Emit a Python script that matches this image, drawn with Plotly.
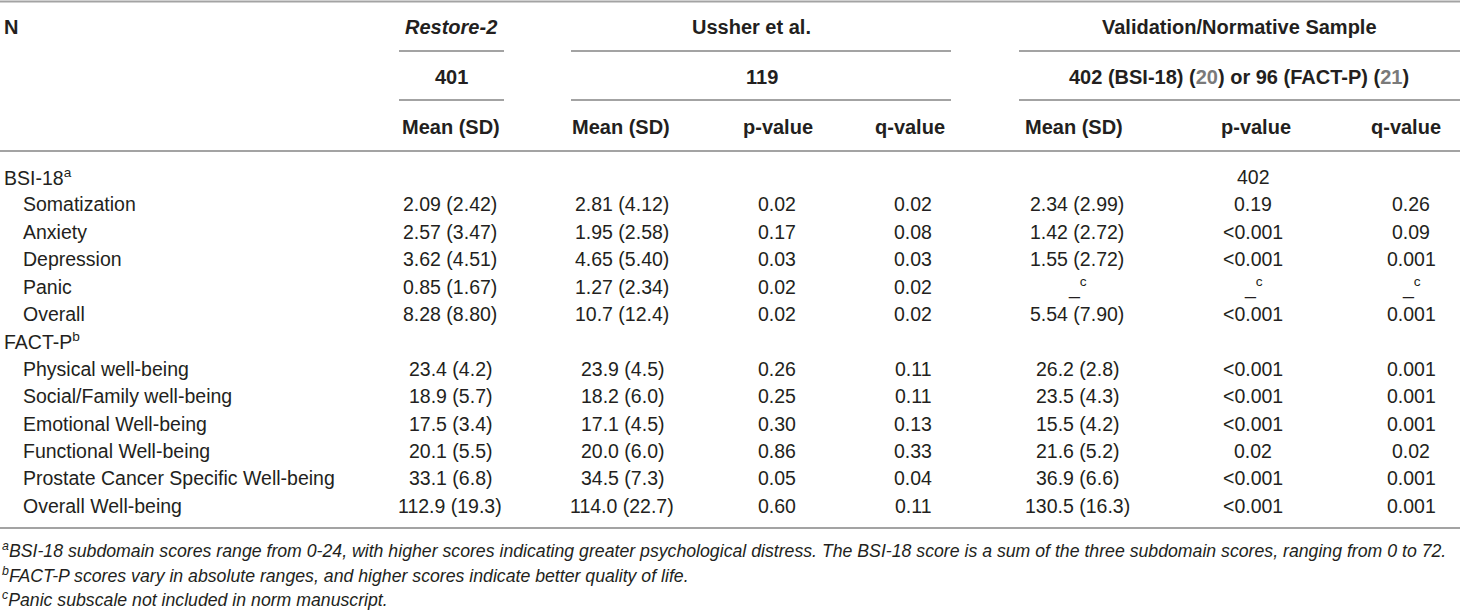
import plotly.graph_objects as go

# ---------------- data ----------------
group_headers = ["<i>Restore-2</i>", "Ussher et al.", "Validation/Normative Sample"]
group_n = ["401", "119",
           "402 (BSI-18) (<span style='color:#7a7a7a'>20</span>) or 96 (FACT-P) (<span style='color:#7a7a7a'>21</span>)"]
sub_headers = ["Mean (SD)", "Mean (SD)", "p-value", "q-value", "Mean (SD)", "p-value", "q-value"]

row_labels = ["BSI-18<sup>a</sup>", "Somatization", "Anxiety", "Depression", "Panic", "Overall",
              "FACT-P<sup>b</sup>", "Physical well-being", "Social/Family well-being",
              "Emotional Well-being", "Functional Well-being",
              "Prostate Cancer Specific Well-being", "Overall Well-being"]
row_indent = [0, 1, 1, 1, 1, 1, 0, 1, 1, 1, 1, 1, 1]

restore_mean = ["", "2.09 (2.42)", "2.57 (3.47)", "3.62 (4.51)", "0.85 (1.67)", "8.28 (8.80)", "",
                "23.4 (4.2)", "18.9 (5.7)", "17.5 (3.4)", "20.1 (5.5)", "33.1 (6.8)", "112.9 (19.3)"]
ussher_mean = ["", "2.81 (4.12)", "1.95 (2.58)", "4.65 (5.40)", "1.27 (2.34)", "10.7 (12.4)", "",
               "23.9 (4.5)", "18.2 (6.0)", "17.1 (4.5)", "20.0 (6.0)", "34.5 (7.3)", "114.0 (22.7)"]
ussher_p = ["", "0.02", "0.17", "0.03", "0.02", "0.02", "",
            "0.26", "0.25", "0.30", "0.86", "0.05", "0.60"]
ussher_q = ["", "0.02", "0.08", "0.03", "0.02", "0.02", "",
            "0.11", "0.11", "0.13", "0.33", "0.04", "0.11"]
val_mean = ["", "2.34 (2.99)", "1.42 (2.72)", "1.55 (2.72)", "_<sup>c</sup>", "5.54 (7.90)", "",
            "26.2 (2.8)", "23.5 (4.3)", "15.5 (4.2)", "21.6 (5.2)", "36.9 (6.6)", "130.5 (16.3)"]
val_p = ["402", "0.19", "&lt;0.001", "&lt;0.001", "_<sup>c</sup>", "&lt;0.001", "",
         "&lt;0.001", "&lt;0.001", "&lt;0.001", "0.02", "&lt;0.001", "&lt;0.001"]
val_q = ["", "0.26", "0.09", "0.001", "_<sup>c</sup>", "0.001", "",
         "0.001", "0.001", "0.001", "0.02", "0.001", "0.001"]

footnotes = [
    "<sup>a</sup>BSI-18 subdomain scores range from 0-24, with higher scores indicating greater psychological distress. The BSI-18 score is a sum of the three subdomain scores, ranging from 0 to 72.",
    "<sup>b</sup>FACT-P scores vary in absolute ranges, and higher scores indicate better quality of life.",
    "<sup>c</sup>Panic subscale not included in norm manuscript.",
]

# ---------------- layout geometry ----------------
W, H = 1460, 612
col_x = [450, 622, 777, 913, 1077, 1253, 1411]
head_x = [451, 621, 778, 910, 1074, 1256, 1406]
group_x = [451, 751, 1239]
n_x = [451, 762, 1239]
group_lines = [(399, 504), (571, 951), (1019, 1460)]
row_y0, row_dy = 177, 27.4
foot_y = [550, 575, 599]

FONT = "Liberation Sans, Arial, sans-serif"
TXT = "#231f20"
LINE = "#a3a3a3"

fig = go.Figure()
ann = []

def add(text, x, y, size=19.5, anchor="center", bold=False):
    t = f"<b>{text}</b>" if bold else text
    ann.append(dict(text=t, x=x, y=y, xref="x", yref="y", showarrow=False,
                    xanchor=anchor, yanchor="middle",
                    font=dict(family=FONT, size=size, color=TXT)))

HS = 20
# header
add("N", 2, 27, size=HS, anchor="left", bold=True)
for t, x in zip(group_headers, group_x):
    add(t, x, 27, size=HS, bold=True)
for t, x in zip(group_n, n_x):
    add(t, x, 77, size=HS, bold=True)
for t, x in zip(sub_headers, head_x):
    add(t, x, 127, size=HS, bold=True)

# body
cols = [restore_mean, ussher_mean, ussher_p, ussher_q, val_mean, val_p, val_q]
for i, lab in enumerate(row_labels):
    y = row_y0 + i * row_dy
    add(lab, 2 + 19 * row_indent[i], y, anchor="left")
    for c, x in zip(cols, col_x):
        if c[i]:
            add(c[i], x, y)

# footnotes
for t, y in zip(footnotes, foot_y):
    add(f"<i>{t}</i>", 0, y, size=17.7, anchor="left")

shapes = []
def hline(x0, x1, y):
    shapes.append(dict(type="line", xref="x", yref="y", x0=x0, x1=x1, y0=y, y1=y,
                       line=dict(color=LINE, width=2)))

hline(0, W, 1.5)
for x0, x1 in group_lines:
    hline(x0, x1, 51)
    hline(x0, x1, 100)
hline(0, W, 151)
hline(0, W, 528)

fig.update_layout(
    width=W, height=H, margin=dict(l=0, r=0, t=0, b=0),
    paper_bgcolor="white", plot_bgcolor="white",
    xaxis=dict(range=[0, W], visible=False, fixedrange=True),
    yaxis=dict(range=[H, 0], visible=False, fixedrange=True),
    annotations=ann, shapes=shapes, showlegend=False,
)
fig.write_html("out.html", config={"displayModeBar": False},
               post_script="document.body.style.margin='0';document.body.style.padding='0';document.body.style.overflow='hidden';")
